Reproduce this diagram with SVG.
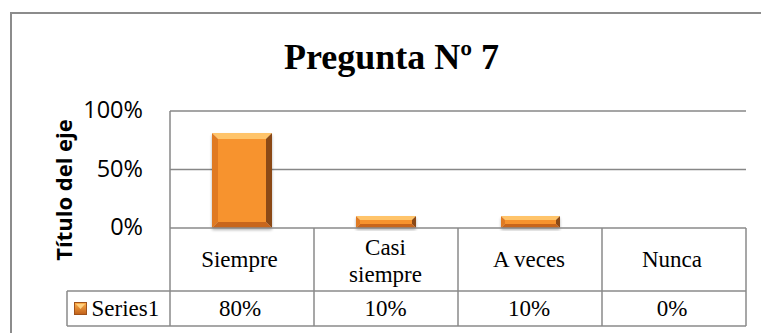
<svg xmlns="http://www.w3.org/2000/svg" width="761" height="333" viewBox="0 0 761 333">
<style>
.grid{stroke:#878787;stroke-width:1.5;fill:none}
.tbl{stroke:#8a8a8a;stroke-width:1.5;fill:none}
.ax{font-family:"Open Sans",sans-serif;font-size:23.5px;fill:#000;text-anchor:end}
.cat{font-family:"Liberation Serif",serif;font-size:23px;fill:#000;text-anchor:middle}
.bt{fill:#FFC46A}.bl{fill:#E07A22}.br{fill:#8B4A12}.bb{fill:#C8661C}.bc{fill:#F7932F}
</style>
<defs>
<linearGradient id="leg" x1="0" y1="0" x2="0" y2="1">
<stop offset="0" stop-color="#FFB04A"/>
<stop offset="1" stop-color="#C0601A"/>
</linearGradient>
<filter id="sh" x="-20%" y="-20%" width="140%" height="140%">
<feGaussianBlur in="SourceAlpha" stdDeviation="1.5"/>
<feOffset dx="0" dy="2"/>
<feComponentTransfer><feFuncA type="linear" slope="0.3"/></feComponentTransfer>
<feMerge><feMergeNode/><feMergeNode in="SourceGraphic"/></feMerge>
</filter>
</defs>
<rect width="761" height="333" fill="#fff"/>
<rect x="11" y="13" width="770" height="340" fill="none" stroke="#8c8c8c" stroke-width="2"/>
<text x="391.5" y="69" font-family="Liberation Serif,serif" font-size="36" font-weight="bold" text-anchor="middle">Pregunta Nº 7</text>
<text transform="translate(72,190) rotate(-90)" font-family="Open Sans,sans-serif" font-size="22" font-weight="bold" text-anchor="middle">Título del eje</text>
<g id="axis">
<line class="grid" x1="170" y1="111" x2="746" y2="111"/>
<line class="grid" x1="170" y1="169.5" x2="746" y2="169.5"/>
<line class="grid" x1="170" y1="111" x2="170" y2="228"/>
<text class="ax" x="143" y="118">100%</text>
<text class="ax" x="143" y="176.5">50%</text>
<text class="ax" x="143" y="235">0%</text>
</g>
<g id="bar-siempre" filter="url(#sh)">
<rect class="bc" x="218" y="139" width="48" height="83"/>
<polygon class="bt" points="212,133 272,133 266,139 218,139"/>
<polygon class="bl" points="212,133 218,139 218,222 212,228"/>
<polygon class="br" points="272,133 272,228 266,222 266,139"/>
<polygon class="bb" points="212,228 218,222 266,222 272,228"/>
</g>
<g id="bar-casi" filter="url(#sh)">
<rect class="bc" x="360" y="220" width="52" height="4"/>
<polygon class="bt" points="356,216 416,216 412,220 360,220"/>
<polygon class="bl" points="356,216 360,220 360,224 356,228"/>
<polygon class="br" points="416,216 416,228 412,224 412,220"/>
<polygon class="bb" points="356,228 360,224 412,224 416,228"/>
</g>
<g id="bar-aveces" filter="url(#sh)">
<rect class="bc" x="505" y="220" width="51" height="4"/>
<polygon class="bt" points="501,216 560,216 556,220 505,220"/>
<polygon class="bl" points="501,216 505,220 505,224 501,228"/>
<polygon class="br" points="560,216 560,228 556,224 556,220"/>
<polygon class="bb" points="501,228 505,224 556,224 560,228"/>
</g>
<g id="table">
<line class="tbl" x1="170" y1="228" x2="746" y2="228"/>
<line class="tbl" x1="67" y1="291" x2="746" y2="291"/>
<line class="tbl" x1="67" y1="326" x2="746" y2="326"/>
<line class="tbl" x1="67" y1="291" x2="67" y2="326"/>
<line class="tbl" x1="170" y1="228" x2="170" y2="326"/>
<line class="tbl" x1="314" y1="228" x2="314" y2="326"/>
<line class="tbl" x1="458" y1="228" x2="458" y2="326"/>
<line class="tbl" x1="602" y1="228" x2="602" y2="326"/>
<line class="tbl" x1="746" y1="228" x2="746" y2="326"/>
<text class="cat" x="239.5" y="267">Siempre</text>
<text class="cat" x="385.5" y="255">Casi</text>
<text class="cat" x="385.5" y="281.5">siempre</text>
<text class="cat" x="529" y="267">A veces</text>
<text class="cat" x="672" y="267">Nunca</text>
<rect x="74.5" y="302.5" width="12" height="12" fill="url(#leg)" stroke="#A0521A" stroke-width="1"/>
<polygon points="76,304 85,304 80.5,309" fill="#FFD080"/>
<text x="91.5" y="316" font-family="Liberation Serif,serif" font-size="23">Series1</text>
<text class="cat" x="240" y="316">80%</text>
<text class="cat" x="385.5" y="316">10%</text>
<text class="cat" x="529" y="316">10%</text>
<text class="cat" x="672" y="316">0%</text>
</g>
</svg>
